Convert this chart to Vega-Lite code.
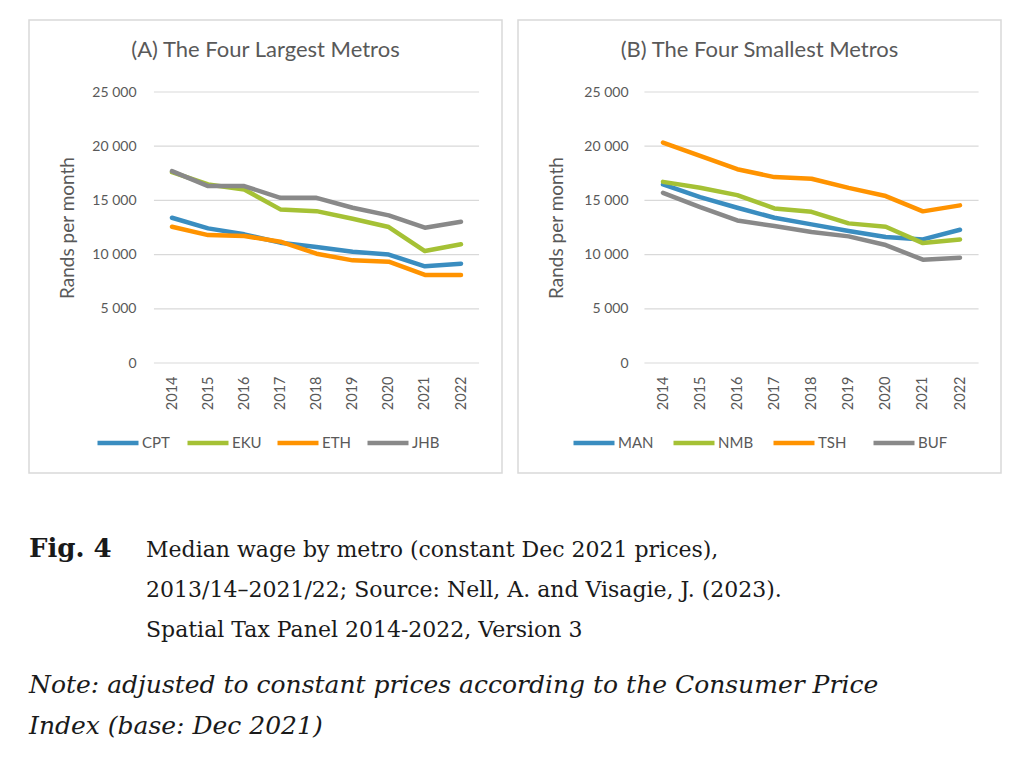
{
  "$schema": "https://vega.github.io/schema/vega-lite/v6.json",
  "padding": {"left": 28, "top": 19, "right": 0, "bottom": 0},
  "background": "white",
  "config": {"font": "Lato", "view": {"stroke": "#d9d9d9", "strokeWidth": 1.5}},
  "datasets": {
    "grid": [{"v": 0}, {"v": 5000}, {"v": 10000}, {"v": 15000}, {"v": 20000}, {"v": 25000}],
    "wages": [
      {"panel": "A", "metro": "CPT", "year": 2014, "wage": 13400}, {"panel": "A", "metro": "CPT", "year": 2015, "wage": 12420}, {"panel": "A", "metro": "CPT", "year": 2016, "wage": 11870}, {"panel": "A", "metro": "CPT", "year": 2017, "wage": 11100}, {"panel": "A", "metro": "CPT", "year": 2018, "wage": 10700}, {"panel": "A", "metro": "CPT", "year": 2019, "wage": 10270}, {"panel": "A", "metro": "CPT", "year": 2020, "wage": 10000}, {"panel": "A", "metro": "CPT", "year": 2021, "wage": 8920}, {"panel": "A", "metro": "CPT", "year": 2022, "wage": 9160},
      {"panel": "A", "metro": "EKU", "year": 2014, "wage": 17600}, {"panel": "A", "metro": "EKU", "year": 2015, "wage": 16470}, {"panel": "A", "metro": "EKU", "year": 2016, "wage": 16010}, {"panel": "A", "metro": "EKU", "year": 2017, "wage": 14170}, {"panel": "A", "metro": "EKU", "year": 2018, "wage": 14010}, {"panel": "A", "metro": "EKU", "year": 2019, "wage": 13310}, {"panel": "A", "metro": "EKU", "year": 2020, "wage": 12540}, {"panel": "A", "metro": "EKU", "year": 2021, "wage": 10330}, {"panel": "A", "metro": "EKU", "year": 2022, "wage": 10950},
      {"panel": "A", "metro": "ETH", "year": 2014, "wage": 12570}, {"panel": "A", "metro": "ETH", "year": 2015, "wage": 11800}, {"panel": "A", "metro": "ETH", "year": 2016, "wage": 11710}, {"panel": "A", "metro": "ETH", "year": 2017, "wage": 11190}, {"panel": "A", "metro": "ETH", "year": 2018, "wage": 10080}, {"panel": "A", "metro": "ETH", "year": 2019, "wage": 9470}, {"panel": "A", "metro": "ETH", "year": 2020, "wage": 9350}, {"panel": "A", "metro": "ETH", "year": 2021, "wage": 8120}, {"panel": "A", "metro": "ETH", "year": 2022, "wage": 8120},
      {"panel": "A", "metro": "JHB", "year": 2014, "wage": 17700}, {"panel": "A", "metro": "JHB", "year": 2015, "wage": 16320}, {"panel": "A", "metro": "JHB", "year": 2016, "wage": 16320}, {"panel": "A", "metro": "JHB", "year": 2017, "wage": 15240}, {"panel": "A", "metro": "JHB", "year": 2018, "wage": 15240}, {"panel": "A", "metro": "JHB", "year": 2019, "wage": 14320}, {"panel": "A", "metro": "JHB", "year": 2020, "wage": 13620}, {"panel": "A", "metro": "JHB", "year": 2021, "wage": 12480}, {"panel": "A", "metro": "JHB", "year": 2022, "wage": 13030},
      {"panel": "B", "metro": "MAN", "year": 2014, "wage": 16470}, {"panel": "B", "metro": "MAN", "year": 2015, "wage": 15300}, {"panel": "B", "metro": "MAN", "year": 2016, "wage": 14320}, {"panel": "B", "metro": "MAN", "year": 2017, "wage": 13400}, {"panel": "B", "metro": "MAN", "year": 2018, "wage": 12790}, {"panel": "B", "metro": "MAN", "year": 2019, "wage": 12180}, {"panel": "B", "metro": "MAN", "year": 2020, "wage": 11630}, {"panel": "B", "metro": "MAN", "year": 2021, "wage": 11400}, {"panel": "B", "metro": "MAN", "year": 2022, "wage": 12290},
      {"panel": "B", "metro": "NMB", "year": 2014, "wage": 16710}, {"panel": "B", "metro": "NMB", "year": 2015, "wage": 16160}, {"panel": "B", "metro": "NMB", "year": 2016, "wage": 15490}, {"panel": "B", "metro": "NMB", "year": 2017, "wage": 14260}, {"panel": "B", "metro": "NMB", "year": 2018, "wage": 13950}, {"panel": "B", "metro": "NMB", "year": 2019, "wage": 12880}, {"panel": "B", "metro": "NMB", "year": 2020, "wage": 12570}, {"panel": "B", "metro": "NMB", "year": 2021, "wage": 11060}, {"panel": "B", "metro": "NMB", "year": 2022, "wage": 11400},
      {"panel": "B", "metro": "TSH", "year": 2014, "wage": 20340}, {"panel": "B", "metro": "TSH", "year": 2015, "wage": 19110}, {"panel": "B", "metro": "TSH", "year": 2016, "wage": 17880}, {"panel": "B", "metro": "TSH", "year": 2017, "wage": 17150}, {"panel": "B", "metro": "TSH", "year": 2018, "wage": 17000}, {"panel": "B", "metro": "TSH", "year": 2019, "wage": 16160}, {"panel": "B", "metro": "TSH", "year": 2020, "wage": 15400}, {"panel": "B", "metro": "TSH", "year": 2021, "wage": 13990}, {"panel": "B", "metro": "TSH", "year": 2022, "wage": 14540},
      {"panel": "B", "metro": "BUF", "year": 2014, "wage": 15700}, {"panel": "B", "metro": "BUF", "year": 2015, "wage": 14380}, {"panel": "B", "metro": "BUF", "year": 2016, "wage": 13150}, {"panel": "B", "metro": "BUF", "year": 2017, "wage": 12630}, {"panel": "B", "metro": "BUF", "year": 2018, "wage": 12080}, {"panel": "B", "metro": "BUF", "year": 2019, "wage": 11680}, {"panel": "B", "metro": "BUF", "year": 2020, "wage": 10880}, {"panel": "B", "metro": "BUF", "year": 2021, "wage": 9530}, {"panel": "B", "metro": "BUF", "year": 2022, "wage": 9710}
    ]
  },
  "spacing": 56,
  "vconcat": [
    {
      "spacing": 14,
      "resolve": {"scale": {"color": "independent"}, "legend": {"color": "independent"}},
      "hconcat": [
        {
          "width": 473,
          "height": 453,
          "title": {"text": "(A) The Four Largest Metros", "offset": -42, "fontSize": 22, "fontWeight": "normal", "color": "#595959", "font": "Lato", "anchor": "middle"},
          "layer": [
            {
              "data": {"name": "grid"},
              "mark": {"type": "rule", "color": "#d9d9d9", "strokeWidth": 1.2},
              "encoding": {
                "y": {"field": "v", "type": "quantitative", "scale": {"domain": [0, 25000], "range": [343, 72], "nice": false}, "axis": {"title": "Rands per month", "values": [0, 5000, 10000, 15000, 20000, 25000], "labelExpr": "replace(format(datum.value, ','), ',', ' ')", "domain": false, "ticks": false, "grid": false, "offset": -107, "labelPadding": 0, "labelFontSize": 14, "labelColor": "#595959", "titleFontSize": 19, "titleColor": "#595959", "titleFontWeight": "normal", "titlePadding": 14}},
                "x": {"datum": 2013.5, "type": "quantitative", "scale": {"domain": [2014, 2022], "range": [143, 432], "nice": false, "zero": false}, "axis": {"title": null, "values": [2014, 2015, 2016, 2017, 2018, 2019, 2020, 2021, 2022], "format": "d", "labelAngle": -90, "domain": false, "ticks": false, "grid": false, "offset": -110, "labelPadding": 13, "labelFontSize": 14.5, "labelColor": "#595959"}},
                "x2": {"datum": 2022.5}
              }
            },
            {
              "data": {"name": "wages"},
              "transform": [{"filter": "datum.panel == 'A'"}],
              "mark": {"type": "line", "strokeWidth": 4.5, "strokeCap": "round", "strokeJoin": "round"},
              "encoding": {
                "x": {"field": "year", "type": "quantitative"},
                "y": {"field": "wage", "type": "quantitative"},
                "color": {"field": "metro", "type": "nominal", "sort": ["CPT", "EKU", "ETH", "JHB"], "scale": {"domain": ["CPT", "EKU", "ETH", "JHB"], "range": ["#3a8dc0", "#a5c135", "#ff9300", "#898989"]}, "legend": {"orient": "none", "legendX": 66, "legendY": 400, "direction": "horizontal", "columns": 4, "gridAlign": "all", "title": null, "symbolType": "stroke", "symbolSize": 1681, "symbolStrokeWidth": 4.5, "labelFontSize": 15, "labelColor": "#595959", "labelOffset": 1, "columnPadding": 6}}
              }
            }
          ]
        },
        {
          "width": 483,
          "height": 453,
          "title": {"text": "(B) The Four Smallest Metros", "offset": -42, "fontSize": 22, "fontWeight": "normal", "color": "#595959", "font": "Lato", "anchor": "middle"},
          "layer": [
            {
              "data": {"name": "grid"},
              "mark": {"type": "rule", "color": "#d9d9d9", "strokeWidth": 1.2},
              "encoding": {
                "y": {"field": "v", "type": "quantitative", "scale": {"domain": [0, 25000], "range": [343, 72], "nice": false}, "axis": {"title": "Rands per month", "values": [0, 5000, 10000, 15000, 20000, 25000], "labelExpr": "replace(format(datum.value, ','), ',', ' ')", "domain": false, "ticks": false, "grid": false, "offset": -110, "labelPadding": 0, "labelFontSize": 14, "labelColor": "#595959", "titleFontSize": 19, "titleColor": "#595959", "titleFontWeight": "normal", "titlePadding": 17}},
                "x": {"datum": 2013.5, "type": "quantitative", "scale": {"domain": [2014, 2022], "range": [145, 442], "nice": false, "zero": false}, "axis": {"title": null, "values": [2014, 2015, 2016, 2017, 2018, 2019, 2020, 2021, 2022], "format": "d", "labelAngle": -90, "domain": false, "ticks": false, "grid": false, "offset": -110, "labelPadding": 13, "labelFontSize": 14.5, "labelColor": "#595959"}},
                "x2": {"datum": 2022.5}
              }
            },
            {
              "data": {"name": "wages"},
              "transform": [{"filter": "datum.panel == 'B'"}],
              "mark": {"type": "line", "strokeWidth": 4.5, "strokeCap": "round", "strokeJoin": "round"},
              "encoding": {
                "x": {"field": "year", "type": "quantitative"},
                "y": {"field": "wage", "type": "quantitative"},
                "color": {"field": "metro", "type": "nominal", "sort": ["MAN", "NMB", "TSH", "BUF"], "scale": {"domain": ["MAN", "NMB", "TSH", "BUF"], "range": ["#3a8dc0", "#a5c135", "#ff9300", "#898989"]}, "legend": {"orient": "none", "legendX": 53, "legendY": 400, "direction": "horizontal", "columns": 4, "gridAlign": "all", "title": null, "symbolType": "stroke", "symbolSize": 1681, "symbolStrokeWidth": 4.5, "labelFontSize": 15, "labelColor": "#595959", "labelOffset": 1, "columnPadding": 10}}
              }
            }
          ]
        }
      ]
    },
    {
      "width": 970,
      "height": {"step": 40},
      "view": {"stroke": null},
      "data": {"values": [
        {"col": "label", "line": 1, "text": "Fig. 4"},
        {"col": "body", "line": 1, "text": "Median wage by metro (constant Dec 2021 prices),"},
        {"col": "body", "line": 2, "text": "2013/14–2021/22; Source: Nell, A. and Visagie, J. (2023)."},
        {"col": "body", "line": 3, "text": "Spatial Tax Panel 2014-2022, Version 3"}
      ]},
      "title": {"text": ["Note: adjusted to constant prices according to the Consumer Price", "Index (base: Dec 2021)"], "orient": "bottom", "anchor": "start", "font": "DejaVu Serif", "fontStyle": "italic", "fontWeight": "normal", "fontSize": 25, "lineHeight": 41, "color": "#1a1a1a", "offset": 23},
      "encoding": {
        "x": {"field": "col", "type": "nominal", "scale": {"type": "point", "domain": ["label", "body"], "range": [0, 117], "padding": 0}, "axis": null},
        "y": {"field": "line", "type": "ordinal", "axis": null},
        "text": {"field": "text"}
      },
      "layer": [
        {"transform": [{"filter": "datum.col == 'label'"}], "mark": {"type": "text", "font": "DejaVu Serif", "fontWeight": "bold", "fontSize": 26, "align": "left", "baseline": "alphabetic", "dy": 7, "color": "#1a1a1a"}},
        {"transform": [{"filter": "datum.col == 'body'"}], "mark": {"type": "text", "font": "DejaVu Serif", "fontWeight": "normal", "fontSize": 22, "align": "left", "baseline": "alphabetic", "dy": 7, "color": "#1a1a1a"}}
      ]
    }
  ]
}
